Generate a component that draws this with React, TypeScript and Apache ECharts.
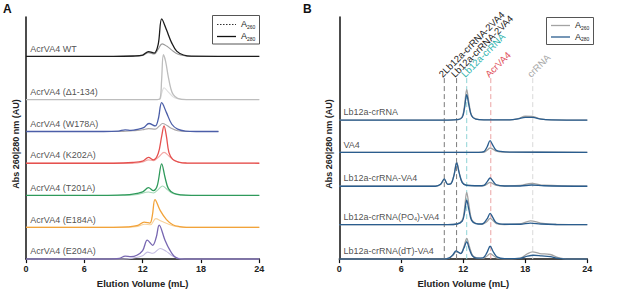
import React, { useEffect, useRef } from "react";
import * as echarts from "echarts";

type Pt = [number, number];

// ---------- Panel A data (elution volume mL, absorbance in arbitrary units) ----------
const namesA = [
  "AcrVA4 WT",
  "AcrVA4 (Δ1-134)",
  "AcrVA4 (W178A)",
  "AcrVA4 (K202A)",
  "AcrVA4 (T201A)",
  "AcrVA4 (E184A)",
  "AcrVA4 (E204A)",
];
const offsetsA = [83.7, 65.9, 52.7, 39.6, 26.3, 13.1, 0];
const colorsA280 = ["#1c1c1c", "#bdbdbd", "#4b5ea8", "#e5514f", "#2f9a5b", "#f2a33a", "#7766b1"];
const colorsA260 = ["#9a9a9a", "#dedede", "#aaa6a8", "#f3aaa7", "#a6d8b8", "#f8d29b", "#c3bce0"];

const wt280: Pt[] = [[0, 0], [9, 0], [11, 0.2], [12, 0.6], [12.6, 2.0], [13.2, 1.4], [13.6, 5], [13.96, 15.5], [14.45, 11], [15, 5.5], [15.5, 2.2], [16.2, 0.6], [17, 0.1], [24, 0]];
const wt260: Pt[] = [[0, 0], [11, 0], [12, 0.4], [12.6, 1.6], [13.2, 1.0], [13.6, 3], [14.0, 5.2], [14.5, 4.2], [15, 2.6], [15.6, 1.0], [16.4, 0.2], [17, 0], [24, 0]];
const d134_280: Pt[] = [[0, 0], [13.5, 0], [13.8, 0.5], [13.95, 8], [14.13, 18.5], [14.35, 16], [14.63, 9.6], [14.9, 4.5], [15.15, 2], [15.6, 0.5], [16.5, 0], [24, 0]];
const d134_260: Pt[] = [[0, 0], [13.7, 0], [13.95, 2.5], [14.2, 4.9], [14.6, 3.3], [15.1, 1.2], [15.6, 0.3], [16.5, 0], [24, 0]];
const w178_280: Pt[] = [[0, 0], [8, 0], [9.5, 0.2], [10.2, 0.7], [10.8, 0.5], [11.5, 0.9], [12.1, 1.6], [12.65, 3.3], [13.3, 2.3], [13.6, 5], [13.96, 11.9], [14.45, 7.8], [15, 3], [15.6, 1.0], [16.4, 0.2], [17.5, 0], [19.8, 0]];
const w178_260: Pt[] = [[0, 0], [10, 0], [11, 0.3], [12, 0.7], [12.6, 1.2], [13.3, 1.0], [13.7, 2.2], [14.05, 3.3], [14.5, 2.5], [15, 1.2], [15.6, 0.3], [16.5, 0], [19.8, 0]];
const k202_280: Pt[] = [[0, 0], [9, 0], [11, 0.3], [12, 0.9], [12.6, 2.4], [13.1, 1.4], [13.6, 4], [13.95, 11], [14.2, 15.4], [14.45, 11], [14.7, 4.5], [15.1, 1.6], [15.7, 0.5], [16.5, 0.1], [24, 0]];
const k202_260: Pt[] = [[0, 0], [11, 0], [12, 0.5], [12.6, 1.4], [13.1, 1.0], [13.7, 2.8], [14.2, 4.5], [14.7, 3], [15.2, 1.2], [15.8, 0.3], [16.6, 0], [24, 0]];
const t201_280: Pt[] = [[0, 0], [8, 0], [10, 0.2], [11, 0.5], [12, 1.5], [12.6, 3.2], [13.1, 2], [13.5, 4], [13.96, 13], [14.3, 7.5], [14.65, 2.8], [15.2, 0.9], [16, 0.2], [17, 0], [24, 0]];
const t201_260: Pt[] = [[0, 0], [10, 0], [11.5, 0.4], [12.6, 1.4], [13.1, 1.0], [13.6, 2.4], [14.05, 3.9], [14.5, 2.5], [15, 1.0], [15.6, 0.3], [16.5, 0], [24, 0]];
const e184_280: Pt[] = [[0, 0], [9, 0], [10.5, 0.2], [11.5, 0.8], [12.15, 2.2], [12.75, 1.8], [13.0, 5], [13.27, 11.5], [13.8, 7], [14.45, 3.2], [15.1, 1.1], [15.8, 0.3], [16.5, 0], [24, 0]];
const e184_260: Pt[] = [[0, 0], [10, 0], [11.5, 0.4], [12.2, 1.3], [12.8, 1.1], [13.35, 3.6], [13.9, 2.6], [14.5, 1.6], [15.2, 0.6], [16, 0.1], [17, 0], [24, 0]];
const e204_280: Pt[] = [[0, 0], [8.5, 0], [9.6, 0.3], [10.2, 1.2], [10.8, 1.0], [11.4, 1.6], [12.0, 3.5], [12.48, 7.8], [13.03, 5.7], [13.4, 9], [13.7, 14], [14.3, 7.8], [14.8, 3.7], [15.3, 1.0], [16, 0], [24, 0]];
const e204_260: Pt[] = [[0, 0], [10, 0], [11, 0.4], [12, 1.4], [12.5, 2.9], [13.05, 2.4], [13.8, 4.4], [14.4, 3.3], [15, 1.5], [15.6, 0.4], [16.3, 0], [24, 0]];

const tracesA280 = [wt280, d134_280, w178_280, k202_280, t201_280, e184_280, e204_280];
const tracesA260 = [wt260, d134_260, w178_260, k202_260, t201_260, e184_260, e204_260];

// ---------- Panel B data ----------
const namesB = [
  "Lb12a-crRNA",
  "VA4",
  "Lb12a-crRNA-VA4",
  "Lb12a-crRNA(PO{sub|4})-VA4",
  "Lb12a-crRNA(dT)-VA4",
];
const offsetsB = [57.4, 44.1, 30.1, 14.2, 0];

const cr280: Pt[] = [[0, 0], [10.5, 0], [11.5, 0.2], [11.9, 1.2], [12.1, 4.5], [12.33, 10.5], [12.55, 6], [12.8, 1.8], [13.2, 0.4], [14, 0.1], [16.5, 0.1], [17.3, 0.5], [18, 1.1], [18.7, 1.1], [19.5, 0.4], [20.5, 0.1], [24, 0]];
const cr260: Pt[] = [[0, 0], [10.5, 0], [11.5, 0.3], [11.9, 1.5], [12.1, 5.5], [12.33, 12.6], [12.55, 7], [12.8, 2], [13.2, 0.5], [14, 0.1], [16.5, 0.1], [17.3, 0.6], [18, 1.6], [18.7, 1.5], [19.5, 0.5], [20.5, 0.1], [24, 0]];
const va4_280: Pt[] = [[0, 0], [13.5, 0], [14.0, 0.3], [14.3, 2.2], [14.59, 4.8], [14.85, 3], [15.15, 1], [15.6, 0.4], [16.5, 0.1], [24, 0]];
const va4_260: Pt[] = [[0, 0], [13.5, 0], [14.0, 0.1], [14.3, 0.9], [14.6, 1.8], [14.9, 1.2], [15.2, 0.5], [15.8, 0.1], [24, 0]];
const crva_280: Pt[] = [[0, 0], [9.3, 0], [9.8, 0.8], [10.16, 3], [10.5, 0.8], [10.8, 1.0], [11.1, 4.5], [11.36, 9.6], [11.6, 5.5], [11.9, 1.5], [12.3, 0.4], [13.5, 0.2], [14.0, 0.4], [14.3, 1.8], [14.6, 3.4], [14.85, 2.2], [15.2, 0.6], [16, 0.1], [17.5, 0.1], [18.6, 0.5], [19.8, 0.2], [24, 0]];
const crva_260: Pt[] = [[0, 0], [9.3, 0], [9.8, 0.7], [10.16, 2.6], [10.5, 0.8], [10.8, 1.1], [11.1, 4.7], [11.36, 9.9], [11.6, 5.7], [11.9, 1.6], [12.3, 0.5], [13.5, 0.2], [14.0, 0.3], [14.3, 0.9], [14.6, 1.6], [14.9, 1.0], [15.2, 0.4], [16, 0.1], [17.5, 0.3], [18.6, 1.2], [19.8, 0.4], [24, 0]];
const po4_280: Pt[] = [[0, 0], [10.5, 0], [11.4, 0.3], [11.9, 1.5], [12.1, 4.5], [12.33, 10.1], [12.55, 6], [12.8, 1.8], [13.2, 0.5], [13.8, 0.3], [14.3, 2.4], [14.6, 4.7], [14.85, 3], [15.2, 0.8], [16, 0.2], [17.5, 0.2], [18.5, 0.7], [19.5, 0.3], [21, 0.1], [24, 0]];
const po4_260: Pt[] = [[0, 0], [10.5, 0], [11.4, 0.3], [11.9, 1.9], [12.1, 6], [12.33, 13.3], [12.55, 8], [12.8, 2.3], [13.2, 0.6], [13.8, 0.2], [14.3, 1.3], [14.6, 2.6], [14.9, 1.6], [15.2, 0.5], [16, 0.1], [17.5, 0.3], [18.5, 1.6], [19.5, 0.7], [21, 0.1], [24, 0]];
const dt280: Pt[] = [[0, 0], [10.0, 0], [10.6, 0.4], [11.0, 1.8], [11.3, 3.4], [11.75, 2.3], [12.05, 4.5], [12.33, 7.1], [12.6, 4], [12.9, 1.2], [13.3, 0.4], [13.9, 0.5], [14.3, 2.8], [14.6, 5.3], [14.9, 3], [15.3, 0.8], [16, 0.2], [17.5, 0.3], [18.2, 1.2], [18.8, 1.6], [19.6, 1.3], [20.4, 1.0], [21.2, 0.3], [22, 0], [24, 0]];
const dt260: Pt[] = [[0, 0], [10, 0], [10.6, 0.4], [11.0, 1.6], [11.3, 3.0], [11.75, 2.4], [12.05, 5], [12.33, 8.5], [12.6, 5], [12.9, 1.5], [13.3, 0.5], [13.9, 0.3], [14.3, 1.3], [14.6, 2.3], [14.9, 1.5], [15.3, 0.4], [16, 0.1], [17.5, 0.4], [18.2, 2.2], [18.7, 3.0], [19.4, 2.3], [20.4, 1.9], [21.2, 0.6], [22, 0], [24, 0]];

const tracesB280 = [cr280, va4_280, crva_280, po4_280, dt280];
const tracesB260 = [cr260, va4_260, crva_260, po4_260, dt260];

// peak markers in panel B
const markerNames = ["2Lb12a-crRNA-2VA4", "Lb12a-crRNA-2VA4", "Lb12a-crRNA", "AcrVA4", "crRNA"];
const markerVolumes = [10.16, 11.35, 12.33, 14.66, 18.72];
const markerLineColors = ["#7a7a7a", "#7a7a7a", "#8fd3d6", "#eba3a3", "#d9d9d9"];
const markerTextColors = ["#222222", "#222222", "#2fb3ad", "#e0505a", "#a8a8a8"];
const markerTop = 75;

const xTicks = [0, 6, 12, 18, 24];

const FONT = "Liberation Sans, Arial, Helvetica, sans-serif";

export default function App() {
  const ref = useRef<HTMLDivElement>(null);
  useEffect(() => {
    document.body.style.margin = "0";
    const chart = echarts.init(ref.current!, null, { renderer: "svg" });

    const series: any[] = [];
    const lineSeries = (data: Pt[], off: number, color: string, width: number, axis: number, z: number) => ({
      type: "line",
      xAxisIndex: axis,
      yAxisIndex: axis,
      data: data.map(([x, y]) => [x, y + off]),
      smooth: 0.35,
      symbol: "none",
      lineStyle: { color, width },
      z,
      silent: true,
    });

    tracesA260.forEach((t, i) => series.push(lineSeries(t, offsetsA[i], colorsA260[i], 1.1, 0, 3)));
    tracesA280.forEach((t, i) => series.push(lineSeries(t, offsetsA[i], colorsA280[i], 1.3, 0, 4)));

    markerVolumes.forEach((v, i) => {
      series.push({
        type: "line",
        xAxisIndex: 1,
        yAxisIndex: 1,
        data: [[v, 0], [v, markerTop]],
        symbol: "none",
        lineStyle: { color: markerLineColors[i], width: 1, type: [5, 3] },
        z: 1,
        silent: true,
      });
    });

    tracesB260.forEach((t, i) => series.push(lineSeries(t, offsetsB[i], "#a3a3a3", 1.3, 1, 3)));
    tracesB280.forEach((t, i) => series.push(lineSeries(t, offsetsB[i], "#2a5d8e", 1.3, 1, 4)));

    const labelSeries = (names: string[], offs: number[], axis: number, x: number) => ({
      type: "scatter",
      xAxisIndex: axis,
      yAxisIndex: axis,
      symbolSize: 1,
      itemStyle: { color: "rgba(0,0,0,0)" },
      silent: true,
      data: offs.map((o) => [x, o + 3]),
      label: {
        show: true,
        position: [0, 0],
        align: "left",
        verticalAlign: "middle",
        fontSize: 9,
        color: "#222",
        fontFamily: FONT,
        formatter: (p: any) => names[p.dataIndex],
        rich: { sub: { fontSize: 5.5, verticalAlign: "bottom", padding: [4, 0, 0, 0], color: "#222", fontFamily: FONT } },
      },
      z: 6,
    });
    series.push(labelSeries(namesA, offsetsA, 0, 0.5));
    series.push(labelSeries(namesB, offsetsB, 1, 0.45));

    const xAxis = (gi: number) => ({
      type: "value",
      gridIndex: gi,
      min: 0,
      max: 24,
      interval: 6,
      axisLine: { show: true, onZero: false, lineStyle: { color: "#111", width: 1.5 } },
      axisTick: { show: true, length: 4, lineStyle: { color: "#111", width: 1.2 } },
      axisLabel: {
        fontSize: 9,
        fontWeight: "bold",
        color: "#222",
        margin: 5,
        fontFamily: FONT,
        customValues: xTicks,
      },
      splitLine: { show: false },
      name: "Elution Volume (mL)",
      nameLocation: "middle",
      nameGap: 18,
      nameTextStyle: { fontSize: 9.5, fontWeight: "bold", color: "#222", fontFamily: FONT },
    });
    const yAxis = (gi: number) => ({
      type: "value",
      gridIndex: gi,
      min: 0,
      max: 100,
      axisLine: { show: true, lineStyle: { color: "#111", width: 1.5 } },
      axisTick: { show: false },
      axisLabel: { show: false },
      splitLine: { show: false },
      name: "Abs 260|280 nm (AU)",
      nameLocation: "middle",
      nameRotate: 90,
      nameGap: 6,
      nameTextStyle: { fontSize: 9, fontWeight: "bold", color: "#222", fontFamily: FONT, padding: [0, 12, 0, 0] },
    });

    const subText = (x: number, y: number, sub: string) => ({
      type: "text",
      x,
      y,
      style: {
        text: "A{s|" + sub + "}",
        fontSize: 9,
        fontFamily: FONT,
        fill: "#222",
        verticalAlign: "middle",
        rich: { s: { fontSize: 5, fontFamily: FONT, fill: "#222", padding: [5, 0, 0, 0] } },
      },
    });

    const baseGraphic: any[] = [
      { type: "text", x: 3, y: 3, style: { text: "A", fontSize: 12, fontWeight: "bold", fontFamily: FONT, fill: "#111" } },
      { type: "text", x: 303, y: 3, style: { text: "B", fontSize: 12, fontWeight: "bold", fontFamily: FONT, fill: "#111" } },
      { type: "rect", shape: { x: 212.5, y: 15.5, width: 47, height: 28.5 }, style: { fill: "#fff", stroke: "#555", lineWidth: 1 } },
      { type: "line", shape: { x1: 217, y1: 24.5, x2: 236, y2: 24.5 }, style: { stroke: "#333", lineWidth: 1, lineDash: [1.5, 1.5] } },
      { type: "line", shape: { x1: 217, y1: 36.5, x2: 236, y2: 36.5 }, style: { stroke: "#111", lineWidth: 1.3 } },
      subText(241, 24, "260"),
      subText(241, 36, "280"),
      { type: "rect", shape: { x: 546.5, y: 17.5, width: 47, height: 27 }, style: { fill: "#fff", stroke: "#555", lineWidth: 1 } },
      { type: "line", shape: { x1: 551, y1: 25.5, x2: 570, y2: 25.5 }, style: { stroke: "#a3a3a3", lineWidth: 1.3 } },
      { type: "line", shape: { x1: 551, y1: 37, x2: 570, y2: 37 }, style: { stroke: "#2a5d8e", lineWidth: 1.3 } },
      subText(575, 25, "260"),
      subText(575, 36.5, "280"),
    ];

    chart.setOption({
      animation: false,
      backgroundColor: "#ffffff",
      grid: [
        { left: 26, right: 357.7, top: 17, bottom: 32.3 },
        { left: 339.3, right: 29.7, top: 17, bottom: 32.3 },
      ],
      xAxis: [xAxis(0), xAxis(1)],
      yAxis: [yAxis(0), yAxis(1)],
      series,
      graphic: baseGraphic,
    });

    // rotated marker labels, placed through the panel B scales
    const rot = (45 * Math.PI) / 180;
    const markerLabels = markerVolumes.map((v, i) => {
      const [px, py] = chart.convertToPixel({ xAxisIndex: 1, yAxisIndex: 1 } as any, [v, markerTop]) as number[];
      return {
        type: "text",
        x: px - 4,
        y: py - 2,
        rotation: rot,
        style: {
          text: markerNames[i],
          fontSize: 9.5,
          fontFamily: FONT,
          fill: markerTextColors[i],
          align: "left",
          verticalAlign: "middle",
        },
        z: 10,
      };
    });
    chart.setOption({ graphic: [...baseGraphic, ...markerLabels] });

    return () => chart.dispose();
  }, []);
  return <div ref={ref} style={{ width: 617, height: 293 }} />;
}
